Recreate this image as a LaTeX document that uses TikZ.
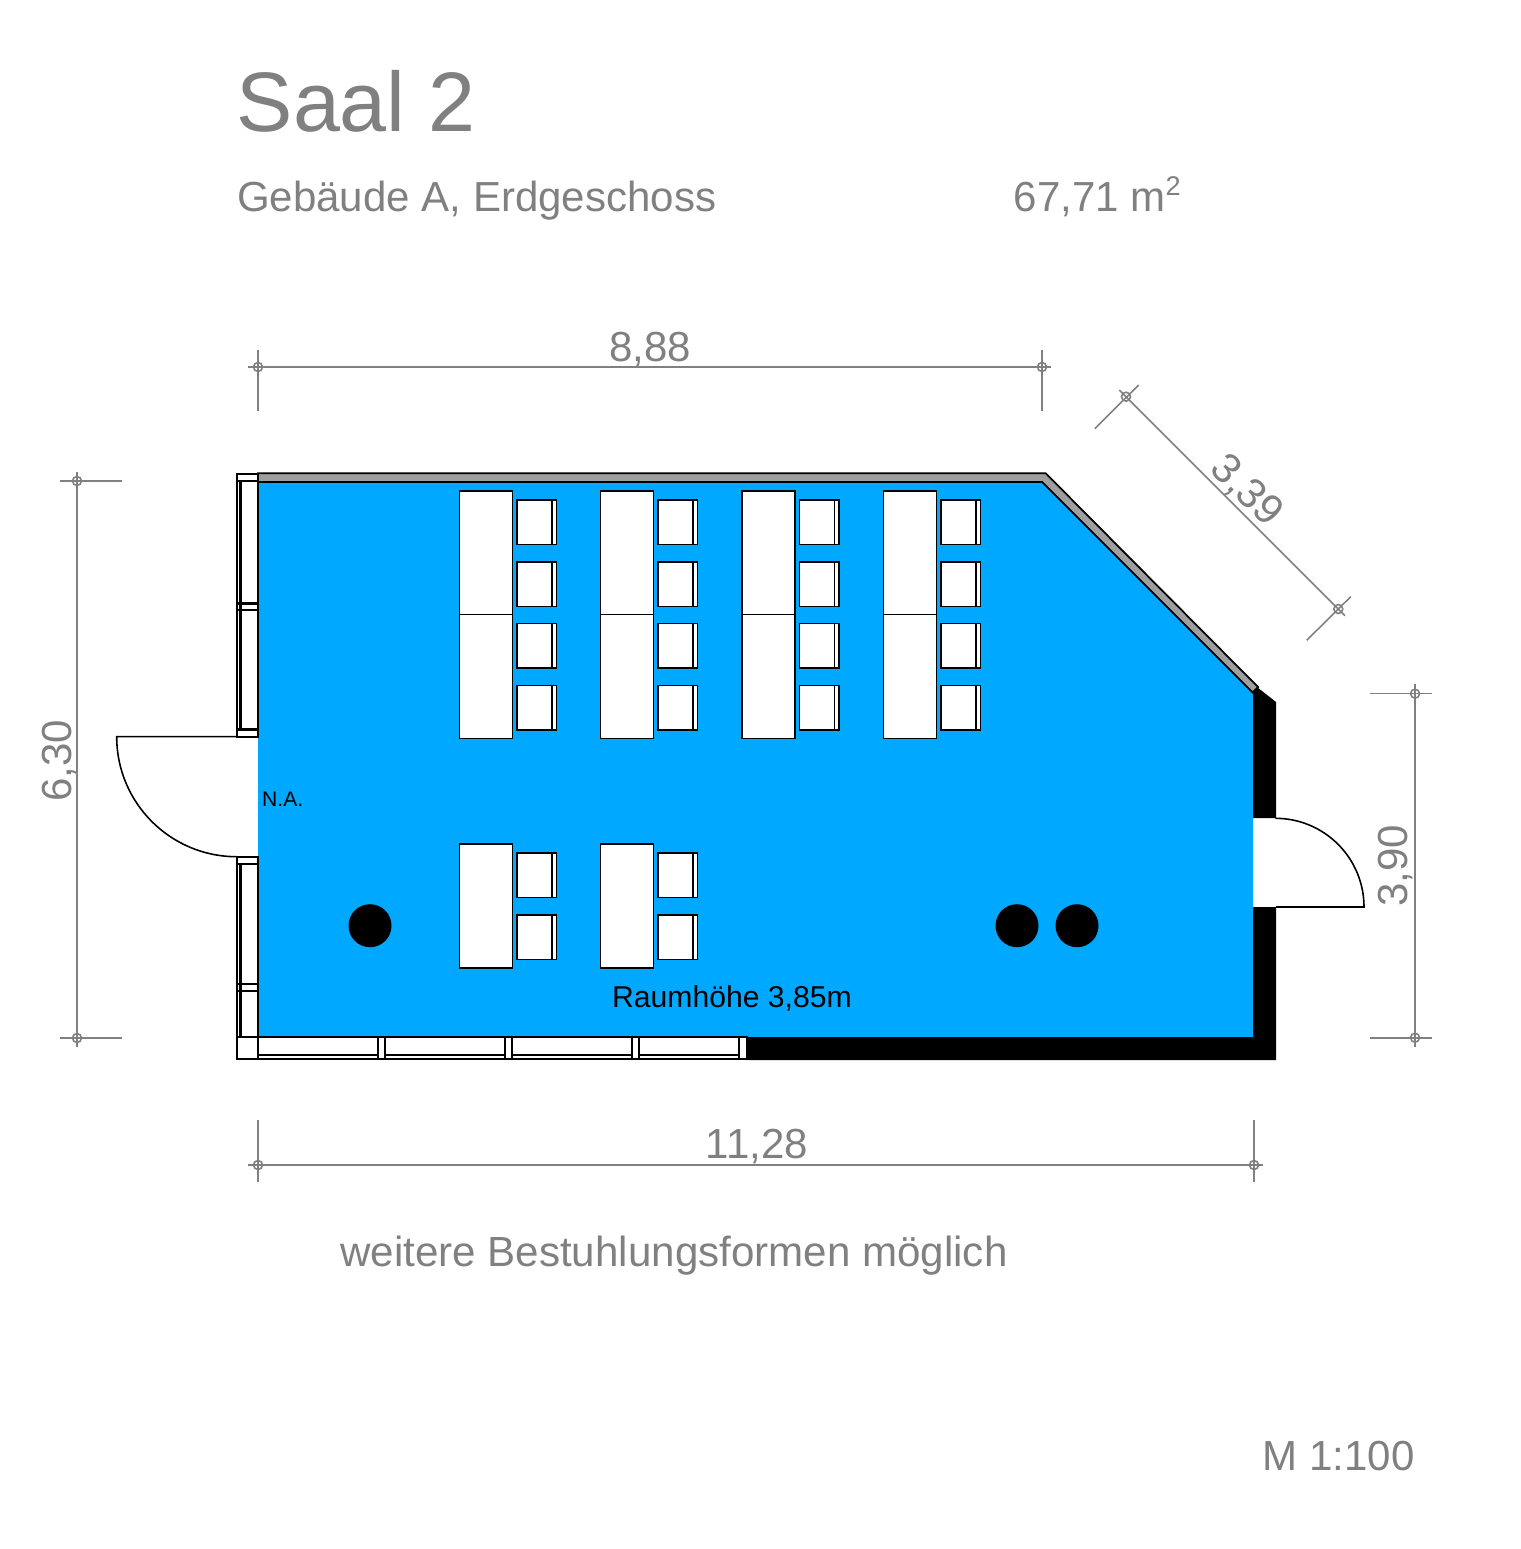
\documentclass[tikz,border=0pt]{standalone}
\usepackage{fontspec}
\setmainfont{Liberation Sans}
\definecolor{roomblue}{RGB}{0,168,255}
\definecolor{wallgrey}{RGB}{158,158,158}
\definecolor{dimgrey}{RGB}{128,128,128}
\tikzset{
    dimline/.style={draw=dimgrey, line width=0.45pt},
    dimtext/.style={text=dimgrey, inner sep=0pt, font=\fontsize{11.95}{14}\selectfont},
    framebox/.style={draw=black, fill=white, line width=0.65pt},
    tablebox/.style={draw=black, fill=white, line width=0.45pt},
    chairbox/.style={draw=black, fill=white, line width=0.45pt},
    doorline/.style={draw=black, line width=0.45pt},
    roomtext/.style={text=black, inner sep=0pt, anchor=base west}
}
\begin{document}
\begin{tikzpicture}[x=0.01cm, y=-0.01cm]
        \useasboundingbox (0,0) rectangle (1520,1549);
        \fill[roomblue] (258,482) -- (1042,482) -- (1253,693) -- (1253,1037) -- (258,1037) -- cycle;
        \draw[black, fill=wallgrey, line width=0.5pt] (258,473.3) -- (1045.7,473.3) -- (1258,687) -- (1252.7,692.5) -- (1042,482) -- (258,482) -- cycle;
        \fill (1257.5,687.5) -- (1276,702) -- (1276,818) -- (1253,818) -- (1253,693) -- cycle;
        \fill (1276,907) -- (1276,1060) -- (746.7,1060) -- (746.7,1037) -- (1253,1037) -- (1253,907) -- cycle;
        \draw[framebox] (236.7,474) rectangle (258,737);
        \draw[framebox] (240.5,480.7) -- (240.5,729) (236.7,480.7) -- (258,480.7) (236.7,603.5) -- (258,603.5) (236.7,610) -- (258,610) (236.7,729.5) -- (258,729.5);
        \draw[framebox] (236.7,857) rectangle (258,1037);
        \draw[framebox] (240.5,864) -- (240.5,1037) (236.7,864) -- (258,864) (236.7,984) -- (258,984) (236.7,990.7) -- (258,990.7);
        \draw[framebox] (236.7,1037) rectangle (258,1059);
        \draw[framebox] (258,1037) rectangle (746.7,1059);
        \draw[framebox] (258,1055) -- (740,1055);
        \draw[framebox, fill=white] (378,1037) rectangle (385,1059);
        \draw[framebox, fill=white] (505.3,1037) rectangle (512,1059);
        \draw[framebox, fill=white] (632.3,1037) rectangle (639.3,1059);
        \draw[framebox, fill=white] (739,1037) rectangle (746.7,1059);
        \draw[doorline] (236.7,736.7) -- (116.7,736.7) arc [start angle=180, end angle=90, radius=120];
        \draw[doorline] (1276,907) -- (1364,907) arc [start angle=0, end angle=-90, radius=88.7];
        \draw[tablebox] (459.3,491) rectangle (512.3,614.7);
        \draw[tablebox] (459.3,614.7) rectangle (512.3,738.4);
        \draw[tablebox] (600.6,491) rectangle (653.6,614.7);
        \draw[tablebox] (600.6,614.7) rectangle (653.6,738.4);
        \draw[tablebox] (742,491) rectangle (795,614.7);
        \draw[tablebox] (742,614.7) rectangle (795,738.4);
        \draw[tablebox] (883.3,491) rectangle (936.3,614.7);
        \draw[tablebox] (883.3,614.7) rectangle (936.3,738.4);
        \draw[tablebox] (459.3,844) rectangle (512.3,968);
        \draw[tablebox] (600.6,844) rectangle (653.6,968);
        \draw[chairbox] (516.7,500) rectangle (556.3,544.3) (551.7,500) -- (551.7,544.3);
        \draw[chairbox] (516.7,562) rectangle (556.3,606.3) (551.7,562) -- (551.7,606.3);
        \draw[chairbox] (516.7,623.7) rectangle (556.3,668) (551.7,623.7) -- (551.7,668);
        \draw[chairbox] (516.7,685.7) rectangle (556.3,730) (551.7,685.7) -- (551.7,730);
        \draw[chairbox] (658,500) rectangle (697.6,544.3) (693,500) -- (693,544.3);
        \draw[chairbox] (658,562) rectangle (697.6,606.3) (693,562) -- (693,606.3);
        \draw[chairbox] (658,623.7) rectangle (697.6,668) (693,623.7) -- (693,668);
        \draw[chairbox] (658,685.7) rectangle (697.6,730) (693,685.7) -- (693,730);
        \draw[chairbox] (799.4,500) rectangle (839,544.3) (834.4,500) -- (834.4,544.3);
        \draw[chairbox] (799.4,562) rectangle (839,606.3) (834.4,562) -- (834.4,606.3);
        \draw[chairbox] (799.4,623.7) rectangle (839,668) (834.4,623.7) -- (834.4,668);
        \draw[chairbox] (799.4,685.7) rectangle (839,730) (834.4,685.7) -- (834.4,730);
        \draw[chairbox] (940.7,500) rectangle (980.3,544.3) (975.7,500) -- (975.7,544.3);
        \draw[chairbox] (940.7,562) rectangle (980.3,606.3) (975.7,562) -- (975.7,606.3);
        \draw[chairbox] (940.7,623.7) rectangle (980.3,668) (975.7,623.7) -- (975.7,668);
        \draw[chairbox] (940.7,685.7) rectangle (980.3,730) (975.7,685.7) -- (975.7,730);
        \draw[chairbox] (516.7,853) rectangle (556.3,897.3) (551.7,853) -- (551.7,897.3);
        \draw[chairbox] (516.7,915) rectangle (556.3,959.3) (551.7,915) -- (551.7,959.3);
        \draw[chairbox] (658,853) rectangle (697.6,897.3) (693,853) -- (693,897.3);
        \draw[chairbox] (658,915) rectangle (697.6,959.3) (693,915) -- (693,959.3);
        \fill (370,925.7) circle [radius=21.5];
        \fill (1017,925.7) circle [radius=21.5];
        \fill (1077,925.7) circle [radius=21.5];
        \draw[dimline] (248,367) -- (1051,367) (258,350) -- (258,411) (1042,350) -- (1042,411);
        \draw[dimline] (258,367) circle [radius=4.5] (1042,367) circle [radius=4.5];
        \draw[dimline] (1119.3,390) -- (1345,615.7) (1094.7,428.7) -- (1138.7,385) (1306.7,640.3) -- (1350.7,596.7);
        \draw[dimline] (1126,396.7) circle [radius=4.5] (1338.3,609) circle [radius=4.5];
        \draw[dimline] (77,472) -- (77,1047) (60,481) -- (122,481) (60,1038) -- (122,1038);
        \draw[dimline] (77,481) circle [radius=4.5] (77,1038) circle [radius=4.5];
        \draw[dimline] (1415,684) -- (1415,1047) (1370,693.7) -- (1432,693.7) (1370,1037.7) -- (1432,1037.7);
        \draw[dimline] (1415,693.7) circle [radius=4.5] (1415,1037.7) circle [radius=4.5];
        \draw[dimline] (248,1165) -- (1263,1165) (258,1120) -- (258,1182) (1254,1120) -- (1254,1182);
        \draw[dimline] (258,1165) circle [radius=4.5] (1254,1165) circle [radius=4.5];
        \node (title) [dimtext, anchor=base west, font=\fontsize{24}{28}\selectfont] at (236,132) {Saal 2};
        \node (building) [dimtext, anchor=base west] at (236.5,212) {Gebäude A, Erdgeschoss};
        \node (area) [dimtext, anchor=base west] at (1013,212) {67,71 m\raisebox{4.55pt}{\fontsize{7.7}{9}\selectfont 2}};
        \node (widthtop) [dimtext, anchor=center] at (650,349.5) {8,88};
        \node (widthdiag) [dimtext, anchor=center, rotate=-45] at (1246.2,491) {3,39};
        \node (heightleft) [dimtext, anchor=center, rotate=90] at (59.5,761) {6,30};
        \node (heightright) [dimtext, anchor=center, rotate=90] at (1395,866) {3,90};
        \node (widthbottom) [dimtext, anchor=center] at (757,1147) {11,28};
        \node (seating) [dimtext, anchor=base west, font=\fontsize{11.98}{14}\selectfont] at (339.5,1266) {weitere Bestuhlungsformen möglich};
        \node (scale) [dimtext, anchor=base west] at (1262,1470) {M 1:100};
        \node (entry) [roomtext, font=\fontsize{6}{7}\selectfont] at (261.5,806) {N.A.};
        \node (ceiling) [roomtext, font=\fontsize{8.57}{10}\selectfont] at (611.5,1007.5) {Raumhöhe 3,85m};
\end{tikzpicture}
\end{document}
